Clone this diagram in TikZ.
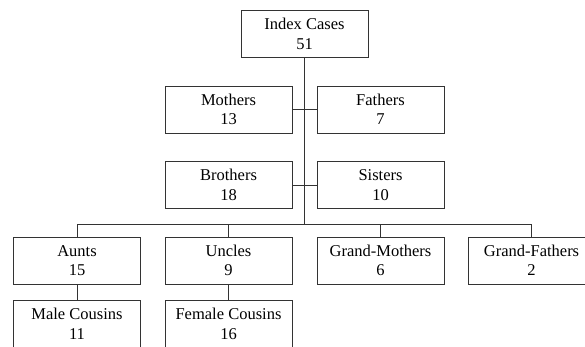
\documentclass[tikz,border=0pt]{standalone}
\usepackage{fontspec}
\setmainfont{Liberation Serif}
\begin{document}
\begin{tikzpicture}[
  x=1pt, y=-1pt,
  box/.style={rectangle, draw=black!80, line width=1pt, minimum width=127pt, minimum height=47pt,
    inner sep=0pt, align=center, font=\fontsize{16.5}{19.5}\selectfont},
  wire/.style={draw=black!80, line width=1pt}
]
\useasboundingbox (0,0) rectangle (585,346);

% Index case
\node[box] (index) at (304.5, 34) {Index Cases\\51};

% Parents
\node[box] (mothers) at (228.5, 109.5) {Mothers\\13};
\node[box] (fathers) at (380.5, 109.5) {Fathers\\7};

% Siblings
\node[box] (brothers) at (228.5, 185) {Brothers\\18};
\node[box] (sisters) at (380.5, 185) {Sisters\\10};

% Second degree relatives
\node[box] (aunts) at (77, 260.5) {Aunts\\15};
\node[box] (uncles) at (228.5, 260.5) {Uncles\\9};
\node[box] (gmothers) at (380.5, 260.5) {Grand-Mothers\\6};
\node[box] (gfathers) at (531.5, 260.5) {Grand-Fathers\\2};

% Cousins
\node[box] (mcousins) at (77, 324) {Male Cousins\\11};
\node[box] (fcousins) at (228.5, 324) {Female Cousins\\16};

% Bar joining the lower row
\coordinate (bar) at (304.5, 224.5);

% Wires
\draw[wire] (index) -- (bar);
\draw[wire] (mothers) -- (fathers);
\draw[wire] (brothers) -- (sisters);
\draw[wire] (aunts.north) |- (bar) -| (gfathers.north);
\draw[wire] (uncles.north) -- (uncles.north |- bar);
\draw[wire] (gmothers.north) -- (gmothers.north |- bar);
\draw[wire] (aunts) -- (mcousins);
\draw[wire] (uncles) -- (fcousins);

\end{tikzpicture}
\end{document}
